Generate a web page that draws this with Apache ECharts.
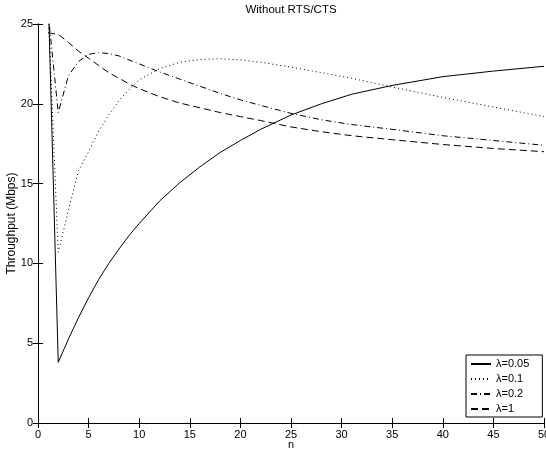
<!DOCTYPE html>
<html>
<head>
<meta charset="utf-8">
<script src="https://cdn.jsdelivr.net/npm/echarts@6/dist/echarts.min.js"></script>
<style>
html, body { margin: 0; padding: 0; background: #fff; }
#Chart { width: 546px; height: 452px; }
</style>
</head>
<body>
<div id="Chart"></div>
<script>
// n values (number of stations) shared by all curves
var nVals = [1, 2, 3, 4, 5, 6, 7, 8, 9, 10, 12, 14, 16, 18, 20, 22, 25, 28, 31, 35, 40, 45, 50];

// throughput (Mbps)
var lam005 = [27.0, 3.8, 5.25, 6.6, 7.85, 9.0, 10.0, 10.9, 11.75, 12.5, 13.9, 15.05, 16.05, 16.95, 17.7, 18.4, 19.3, 20.0, 20.6, 21.15, 21.7, 22.05, 22.35];
var lam01 = [26.0, 10.7, 13.3, 15.8, 17.0, 18.3, 19.3, 20.2, 20.9, 21.5, 22.2, 22.6, 22.78, 22.82, 22.75, 22.6, 22.3, 21.95, 21.6, 21.05, 20.4, 19.8, 19.2];
var lam02 = [25.7, 19.45, 21.75, 22.65, 23.1, 23.2, 23.15, 23.0, 22.75, 22.5, 22.0, 21.55, 21.1, 20.65, 20.25, 19.9, 19.4, 19.0, 18.7, 18.4, 18.0, 17.7, 17.4];
var lam1 = [24.45, 24.35, 23.85, 23.3, 22.85, 22.4, 21.95, 21.6, 21.25, 20.95, 20.45, 20.05, 19.75, 19.45, 19.2, 18.95, 18.55, 18.25, 18.0, 17.75, 17.45, 17.2, 17.0];

var names = ['λ=0.05', 'λ=0.1', 'λ=0.2', 'λ=1'];

function pairs(vals) {
  return nVals.map(function (n, i) { return [n, vals[i]]; });
}

var font = 'Liberation Sans, Arial, Helvetica, sans-serif';
var tick = { show: true, inside: true, length: 5, lineStyle: { color: '#000', width: 1 } };
var line = { show: true, lineStyle: { color: '#000', width: 1 } };

function mkSeries(name, vals, dash) {
  return {
    name: name,
    type: 'line',
    symbol: 'none',
    data: pairs(vals),
    lineStyle: { color: '#000', width: 1, type: dash },
    itemStyle: { color: '#000' }
  };
}

var chart = echarts.init(document.getElementById('Chart'));
chart.setOption({
  animation: false,
  backgroundColor: '#fff',
  grid: { left: 38, right: 2, top: 24, bottom: 29, outerBoundsMode: 'none', containLabel: false },
  legend: {
    orient: 'vertical',
    left: 466,
    top: 355,
    data: names,
    itemWidth: 20,
    itemHeight: 12,
    itemGap: 3,
    padding: [3, 13, 2, 4],
    backgroundColor: '#fff',
    borderColor: '#000',
    borderWidth: 1,
    borderRadius: 0,
    itemStyle: { color: 'rgba(0,0,0,0)', borderColor: 'rgba(0,0,0,0)', borderWidth: 0 },
    textStyle: { fontFamily: font, fontSize: 11, color: '#000', lineHeight: 12 }
  },
  xAxis: [
    {
      type: 'value', min: 0, max: 50, interval: 5, position: 'bottom',
      name: 'n', nameLocation: 'middle', nameGap: 16, nameMoveOverlap: false,
      nameTextStyle: { fontFamily: font, fontSize: 11, color: '#000' },
      axisLine: line, axisTick: tick, splitLine: { show: false },
      axisLabel: { fontFamily: font, fontSize: 11, color: '#000', margin: 6 }
    },
    {
      type: 'value', min: 0, max: 50, interval: 5, position: 'top',
      name: 'Without RTS/CTS', nameLocation: 'middle', nameGap: 8, nameMoveOverlap: false,
      nameTextStyle: { fontFamily: font, fontSize: 11.5, color: '#000' },
      axisLine: line, axisTick: tick, splitLine: { show: false },
      axisLabel: { show: false }
    }
  ],
  yAxis: [
    {
      type: 'value', min: 0, max: 25, interval: 5, position: 'left',
      name: 'Throughput (Mbps)', nameLocation: 'middle', nameGap: 20, nameMoveOverlap: false,
      nameTextStyle: { fontFamily: font, fontSize: 12, color: '#000' },
      axisLine: line, axisTick: tick, splitLine: { show: false },
      axisLabel: { fontFamily: font, fontSize: 11, color: '#000', margin: 5 }
    },
    {
      type: 'value', min: 0, max: 25, interval: 5, position: 'right',
      axisLine: line, axisTick: tick, splitLine: { show: false },
      axisLabel: { show: false }
    }
  ],
  series: [
    mkSeries(names[0], lam005, 'solid'),
    mkSeries(names[1], lam01, [1, 3]),
    mkSeries(names[2], lam02, [6, 3, 1, 3]),
    mkSeries(names[3], lam1, [7, 4])
  ]
});
</script>
</body>
</html>
